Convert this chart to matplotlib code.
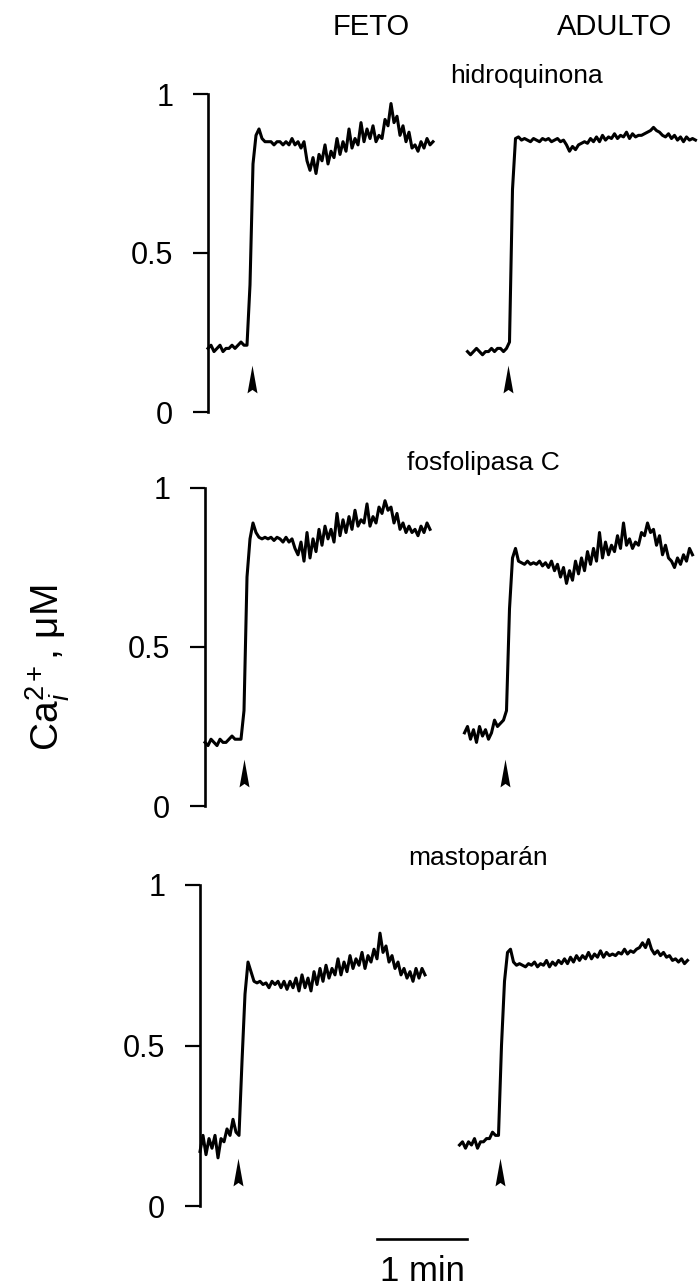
import numpy as np
import matplotlib
matplotlib.use("Agg")
import matplotlib.pyplot as plt

plt.rcParams['font.family'] = ['Liberation Sans', 'DejaVu Sans']
plt.rcParams['mathtext.fontset'] = 'custom'
plt.rcParams['mathtext.rm'] = 'Liberation Sans'
plt.rcParams['mathtext.it'] = 'Liberation Sans:italic'

# ---- data (Ca2+ in uM, one sample every SAMPLE_S seconds) ----
SAMPLE_S = 2.0
ADULTO_T0 = 173.0          # adult trace drawn this many seconds after the fetal one
SCALE_S = 60.0             # "1 min" bar

PANEL_TITLES = ["hidroquinona", "fosfolipasa C", "mastoparán"]
COLUMN_TITLES = ["FETO", "ADULTO"]
Y_TICKS = [0, 0.5, 1]
Y_TICK_LABELS = ["0", "0.5", "1"]

# stimulus (arrowhead) times, s from trace start
ARROW_FETO = [29, 26, 25]
ARROW_ADULTO = [27, 27, 27]

FETO_HQ = [0.20, 0.21, 0.19, 0.20, 0.21, 0.19, 0.20, 0.20, 0.21, 0.20, 0.21, 0.22, 0.21, 0.21,
           0.40, 0.78, 0.87, 0.89,
           0.86, 0.85, 0.85, 0.85, 0.84, 0.85, 0.85, 0.84, 0.85, 0.84, 0.86, 0.84, 0.85, 0.83, 0.85,
           0.79, 0.76, 0.80, 0.75, 0.81, 0.79, 0.84, 0.78, 0.82, 0.80, 0.86, 0.81, 0.85, 0.82, 0.89,
           0.83, 0.86, 0.84, 0.91, 0.85, 0.89, 0.86, 0.90, 0.85, 0.87, 0.86, 0.92, 0.90, 0.97, 0.91,
           0.93, 0.87, 0.90, 0.85, 0.88, 0.83, 0.84, 0.82, 0.85, 0.83, 0.86, 0.84, 0.85]
ADULTO_HQ = [0.19, 0.18, 0.19, 0.20, 0.19, 0.18, 0.19, 0.19, 0.20, 0.19, 0.20, 0.20, 0.19, 0.20,
             0.22, 0.70, 0.86, 0.865,
             0.855, 0.86, 0.855, 0.85, 0.86, 0.855, 0.85, 0.86, 0.855, 0.86, 0.85, 0.855, 0.86, 0.85, 0.855,
             0.84, 0.82, 0.835, 0.825, 0.84, 0.845, 0.85, 0.845, 0.86, 0.85, 0.865, 0.85, 0.87, 0.855,
             0.865, 0.86, 0.875, 0.86, 0.87, 0.865, 0.88, 0.86, 0.875, 0.865, 0.87, 0.87, 0.875, 0.88,
             0.885, 0.895, 0.885, 0.88, 0.87, 0.865, 0.875, 0.86, 0.87, 0.855, 0.865, 0.85, 0.865, 0.855,
             0.86, 0.855]

FETO_PLC = [0.20, 0.19, 0.21, 0.20, 0.19, 0.21, 0.20, 0.20, 0.21, 0.22, 0.21, 0.21, 0.21,
            0.30, 0.72, 0.84, 0.89, 0.86,
            0.845, 0.84, 0.845, 0.84, 0.845, 0.835, 0.845, 0.84, 0.83, 0.845, 0.83, 0.84, 0.81,
            0.79, 0.83, 0.77, 0.86, 0.78, 0.84, 0.80, 0.87, 0.82, 0.88, 0.84, 0.87, 0.83, 0.92, 0.85,
            0.90, 0.86, 0.91, 0.87, 0.93, 0.88, 0.90, 0.89, 0.95, 0.88, 0.91, 0.89, 0.94, 0.92, 0.96,
            0.93, 0.94, 0.89, 0.92, 0.87, 0.89, 0.86, 0.88, 0.86, 0.87, 0.85, 0.88, 0.86, 0.89, 0.87]
ADULTO_PLC = [0.23, 0.25, 0.21, 0.24, 0.20, 0.25, 0.22, 0.24, 0.21, 0.23, 0.27, 0.25, 0.26, 0.27,
              0.30, 0.62, 0.78, 0.81, 0.77,
              0.765, 0.76, 0.77, 0.76, 0.765, 0.76, 0.77, 0.755, 0.765, 0.75, 0.77, 0.74, 0.76, 0.72,
              0.75, 0.70, 0.74, 0.71, 0.77, 0.73, 0.78, 0.74, 0.80, 0.76, 0.81, 0.77, 0.86, 0.78, 0.83,
              0.79, 0.82, 0.80, 0.85, 0.81, 0.89, 0.82, 0.84, 0.81, 0.83, 0.82, 0.86, 0.85, 0.89, 0.86,
              0.87, 0.82, 0.85, 0.79, 0.82, 0.78, 0.77, 0.75, 0.78, 0.76, 0.79, 0.77, 0.81, 0.79]

FETO_MAS = [0.17, 0.22, 0.16, 0.21, 0.18, 0.22, 0.15, 0.21, 0.20, 0.24, 0.22, 0.27, 0.23, 0.22,
            0.45, 0.66, 0.76, 0.73,
            0.70, 0.695, 0.70, 0.69, 0.695, 0.68, 0.70, 0.69, 0.70, 0.68, 0.70, 0.675, 0.70, 0.68,
            0.71, 0.67, 0.72, 0.68, 0.71, 0.67, 0.73, 0.69, 0.74, 0.70, 0.75, 0.71, 0.74, 0.72, 0.77,
            0.72, 0.76, 0.73, 0.78, 0.74, 0.77, 0.75, 0.79, 0.74, 0.78, 0.76, 0.80, 0.77, 0.85, 0.79,
            0.81, 0.76, 0.78, 0.74, 0.76, 0.72, 0.74, 0.71, 0.73, 0.70, 0.74, 0.71, 0.74, 0.72]
ADULTO_MAS = [0.19, 0.20, 0.18, 0.20, 0.19, 0.21, 0.18, 0.20, 0.20, 0.21, 0.21, 0.23, 0.22, 0.22,
              0.50, 0.70, 0.79, 0.80, 0.76,
              0.75, 0.755, 0.75, 0.745, 0.755, 0.75, 0.76, 0.745, 0.755, 0.75, 0.765, 0.745, 0.76,
              0.75, 0.765, 0.755, 0.77, 0.755, 0.775, 0.76, 0.78, 0.765, 0.78, 0.77, 0.79, 0.77, 0.785,
              0.775, 0.795, 0.775, 0.79, 0.78, 0.785, 0.78, 0.79, 0.785, 0.80, 0.785, 0.795, 0.79, 0.80,
              0.805, 0.82, 0.805, 0.83, 0.80, 0.785, 0.795, 0.78, 0.79, 0.775, 0.78, 0.765, 0.77, 0.76,
              0.77, 0.755, 0.765]

FETO = [FETO_HQ, FETO_PLC, FETO_MAS]
ADULTO = [ADULTO_HQ, ADULTO_PLC, ADULTO_MAS]

# ---- layout (pixels of the 699x1288 output) ----
W, H = 699, 1288
ROW_SPINE_PX = [208, 205, 200]
ROW_TOP_PX = [94, 488, 885]
ROW_BOTTOM_PX = [412, 806, 1206]
PX_PER_S = 1.5
ARROW_Y = 0.105
ARROW_MARKER = [(-0.36, -1.0), (0.0, -0.75), (0.36, -1.0), (0.0, 1.0), (-0.36, -1.0)]
TRACE_LW = 2.2

fig = plt.figure(figsize=(W / 100, H / 100), dpi=100)
fig.patch.set_facecolor('white')

axes = []
for i in range(3):
    left = ROW_SPINE_PX[i] / W
    bottom = 1 - ROW_BOTTOM_PX[i] / H
    height = (ROW_BOTTOM_PX[i] - ROW_TOP_PX[i]) / H
    ax = fig.add_axes([left, bottom, 1 - left, height])
    ax.set_xlim(0, (W - ROW_SPINE_PX[i]) / PX_PER_S)
    ax.set_ylim(0, 1)
    ax.patch.set_alpha(0)

    tf = np.arange(len(FETO[i])) * SAMPLE_S
    ta = ADULTO_T0 + np.arange(len(ADULTO[i])) * SAMPLE_S
    ax.plot(tf, FETO[i], color='black', lw=TRACE_LW, clip_on=False)
    ax.plot(ta, ADULTO[i], color='black', lw=TRACE_LW, clip_on=False)

    # stimulus arrowheads
    ax.plot([ARROW_FETO[i], ADULTO_T0 + ARROW_ADULTO[i]], [ARROW_Y, ARROW_Y], ls='none',
            marker=ARROW_MARKER, ms=20, color='black', mew=0, clip_on=False)

    for side in ['top', 'right', 'bottom']:
        ax.spines[side].set_visible(False)
    ax.spines['left'].set_linewidth(1.9)
    ax.spines['left'].set_bounds(0, 1)
    ax.set_yticks(Y_TICKS)
    ax.set_yticklabels(Y_TICK_LABELS)
    ax.tick_params(axis='y', direction='out', length=11, width=1.6, pad=14, labelsize=22)
    ax.set_xticks([])
    axes.append(ax)

# 1 min scale bar under the last row
ax = axes[-1]
bar_x0 = (377 - ROW_SPINE_PX[2]) / PX_PER_S
ax.plot([bar_x0, bar_x0 + SCALE_S], [-0.103, -0.103], color='black', lw=1.9, clip_on=False)
ax.text(bar_x0 + SCALE_S / 2, -0.234, "1 min", ha='center', va='baseline', fontsize=25)


def ftext(x, y, s, **kw):
    fig.text(x / W, 1 - y / H, s, ha='center', va='center', **kw)


ftext(371, 27, COLUMN_TITLES[0], fontsize=21)
ftext(615, 27, COLUMN_TITLES[1], fontsize=21)
ftext(527, 76, PANEL_TITLES[0], fontsize=19)
ftext(483, 463, PANEL_TITLES[1], fontsize=19)
ftext(478, 858, PANEL_TITLES[2], fontsize=19)
ftext(48, 668, r'Ca$^{2+}_{i}$, μM', fontsize=28, rotation=90)

fig.savefig('out.png', dpi=100, facecolor='white')
